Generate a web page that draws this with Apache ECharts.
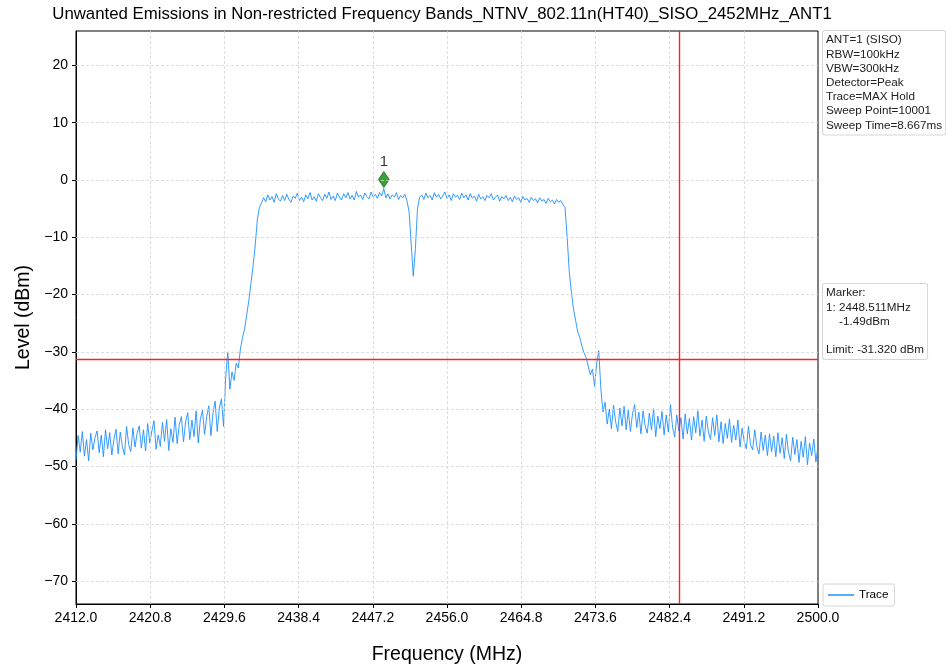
<!DOCTYPE html>
<html>
<head>
    <meta charset="utf-8">
    <script src="https://cdn.jsdelivr.net/npm/echarts@6/dist/echarts.min.js"></script>
    <style>
        html, body { margin: 0; padding: 0; background: #fff; }
        #main { width: 946px; height: 670px; }
    </style>
</head>

<body>
    <div id="main"></div>

    <script type="text/javascript">
        // sweep grid of the trace
        var FREQ_START = 2412.0;
        var FREQ_STEP = 0.25;

        // trace levels (dBm)
        var leftTail = [
            -48.9, -44.6, -47.5, -43.9, -48.2, -45.3, -49.0, -44.2, -47.1, -45.0,
            -43.8, -47.6, -44.5, -48.3, -43.6, -46.9, -44.1, -48.0, -45.2, -43.5,
            -47.8, -44.0, -46.5, -48.0, -43.0, -46.2, -47.4, -43.3, -46.6, -44.2,
            -42.9, -46.8, -43.6, -47.3, -42.5, -45.9, -43.8, -42.0, -47.0, -44.5,
            -46.5, -42.3, -45.6, -41.8, -47.2, -43.4, -45.8, -41.4, -46.0, -42.7,
            -41.3, -45.7, -42.2, -40.6, -45.3, -41.9, -44.8, -40.3, -45.9, -41.7,
            -40.2, -44.4, -41.3, -39.4, -44.6, -40.7, -38.6, -43.9, -39.8, -38.2
        ];
        var riseEdge = [
            -43.0, -34.5, -30.0, -36.5, -33.5, -35.0, -32.0, -32.8, -29.5, -27.5,
            -26.0, -23.5, -21.0, -18.0, -15.0, -11.5, -7.0, -4.8
        ];
        var plateauLow = [
            -4.0, -3.1, -3.8, -2.6, -3.5, -2.9, -3.9, -2.4, -3.3, -3.7,
            -2.7, -3.6, -2.5, -3.4, -3.9, -2.8, -3.2, -2.3, -3.6, -3.0,
            -3.8, -2.6, -3.3, -2.2, -3.5, -2.9, -3.7, -2.4, -3.1, -3.6,
            -2.5, -3.2, -2.1, -3.4, -2.8, -3.6, -2.3, -3.0, -3.5, -2.4,
            -3.1, -2.2, -3.3, -2.7, -3.5, -2.0, -3.0, -2.6, -3.4, -2.3,
            -2.9, -3.3, -2.1, -3.0, -2.5, -3.2, -2.2, -2.8, -1.49, -3.1,
            -2.4, -3.3, -2.6, -3.0, -2.2, -3.4, -2.7, -3.1, -2.5, -3.6
        ];
        var notch = [-5.5, -11.0, -16.8, -12.0, -5.0, -3.0];
        var plateauHigh = [
            -2.6, -3.4, -2.3, -3.1, -2.7, -3.5, -2.2, -3.0, -2.5, -3.3,
            -2.8, -2.1, -3.2, -2.6, -3.6, -2.4, -3.0, -2.7, -3.4, -2.3,
            -3.1, -2.6, -3.5, -2.4, -3.2, -2.8, -3.7, -2.5, -3.3, -2.9,
            -3.6, -2.7, -3.1, -2.4, -3.5, -3.0, -2.6, -3.7, -2.9, -3.3,
            -2.7, -3.6, -3.0, -3.8, -2.8, -3.4, -3.1, -3.9, -2.9, -3.5,
            -3.2, -3.9, -3.0, -3.6, -3.3, -4.0, -3.1, -3.7, -3.4, -4.1,
            -3.2, -3.8, -3.5, -4.2, -3.4, -3.9, -3.6, -4.3, -4.8
        ];
        var fallEdge = [
            -10.0, -16.0, -19.5, -22.5, -24.5, -26.5, -27.5, -29.0, -30.2, -31.0,
            -32.5, -34.0, -33.0, -36.0, -32.0, -29.8, -36.5, -40.5
        ];
        var rightTail = [
            -38.8, -42.6, -40.0, -43.4, -39.3, -42.2, -43.9, -39.8, -42.9, -39.5,
            -43.6, -40.2, -43.9, -40.8, -39.2, -43.2, -40.5, -44.3, -40.3, -42.9,
            -44.2, -40.7, -43.6, -39.9, -44.8, -41.2, -43.4, -40.4, -44.5, -41.0,
            -44.0, -39.2, -43.1, -44.9, -41.0, -43.8, -41.5, -45.2, -40.8, -44.3,
            -41.6, -45.4, -41.3, -44.1, -40.3, -44.7, -41.9, -45.6, -41.2, -44.0,
            -45.3, -41.5, -44.6, -41.0, -45.7, -42.2, -46.0, -42.5, -45.1, -41.7,
            -45.8, -42.8, -45.4, -41.9, -46.6, -43.3, -45.6, -46.9, -43.0, -46.2,
            -47.1, -43.6, -46.5, -47.8, -44.0, -47.2, -44.5, -48.1, -44.3, -47.4,
            -44.7, -48.3, -44.1, -47.7, -45.0, -48.6, -44.4, -47.5, -49.0, -44.9,
            -47.9, -45.3, -49.3, -45.6, -48.4, -44.8, -49.7, -45.9, -48.1, -45.2,
            -49.2, -46.4
        ];

        var xTicks = [2412.0, 2420.8, 2429.6, 2438.4, 2447.2, 2456.0, 2464.8, 2473.6, 2482.4, 2491.2, 2500.0];
        var yTicks = [-70, -60, -50, -40, -30, -20, -10, 0, 10, 20];
        var limitLevel = -31.32;
        var bandEdge = 2483.5;
        var markerPoint = [2448.511, -1.49];

        var infoLines = ['ANT=1 (SISO)', 'RBW=100kHz', 'VBW=300kHz', 'Detector=Peak',
            'Trace=MAX Hold', 'Sweep Point=10001', 'Sweep Time=8.667ms'];
        var markerLines = ['Marker:', '1: 2448.511MHz', '    -1.49dBm', '', 'Limit: -31.320 dBm'];

        var levels = [].concat(leftTail, riseEdge, plateauLow, notch, plateauHigh, fallEdge, rightTail);
        var trace = levels.map(function (v, i) {
            return [+(FREQ_START + i * FREQ_STEP).toFixed(2), v];
        });

        var FONT = '"Liberation Sans", Arial, sans-serif';

        // inner gridlines only, the frame is drawn by the grid border
        var gridLines = yTicks.map(function (v) { return { yAxis: v }; })
            .concat(xTicks.slice(1, -1).map(function (v) { return { xAxis: v }; }));

        function boxText(lines, x, y) {
            return {
                type: 'text',
                left: x,
                top: y,
                silent: true,
                style: {
                    text: lines.join('\n'),
                    font: '11.7px ' + FONT,
                    fill: '#222',
                    lineHeight: 14.2,
                    backgroundColor: '#fff',
                    borderColor: '#d6d6d6',
                    borderWidth: 1,
                    borderRadius: 2,
                    padding: [2, 3, 2, 3]
                }
            };
        }

        var myChart = echarts.init(document.getElementById('main'), null, { renderer: 'canvas' });
        myChart.setOption({
            animation: false,
            backgroundColor: '#fff',
            textStyle: { fontFamily: FONT },
            grid: {
                left: 76, right: 128, top: 31, bottom: 65,
                show: true, borderColor: '#000', borderWidth: 1, backgroundColor: 'transparent'
            },
            legend: {
                data: [{ name: 'Trace', icon: 'rect' }],
                left: 823, top: 584,
                borderColor: '#d6d6d6', borderWidth: 1, borderRadius: 2,
                padding: [5, 6, 5, 5],
                itemWidth: 26, itemHeight: 1.5,
                textStyle: { fontSize: 11.7, color: '#000', fontFamily: FONT },
                selectedMode: false
            },
            graphic: [
                {
                    type: 'text', x: 442, y: 14, silent: true,
                    style: {
                        text: 'Unwanted Emissions in Non-restricted Frequency Bands_NTNV_802.11n(HT40)_SISO_2452MHz_ANT1',
                        font: '16.8px ' + FONT, fill: '#000', align: 'center', verticalAlign: 'middle'
                    }
                },
                boxText(infoLines, 822, 30),
                boxText(markerLines, 822, 283)
            ],
            xAxis: {
                type: 'value',
                min: 2412, max: 2500,
                name: 'Frequency (MHz)',
                nameLocation: 'middle',
                nameGap: 41,
                nameTextStyle: { fontSize: 19.5, color: '#000', fontFamily: FONT },
                axisLine: { show: true, onZero: false, lineStyle: { color: '#000' } },
                axisTick: { show: true, length: 4, lineStyle: { color: '#000' }, customValues: xTicks },
                axisLabel: {
                    customValues: xTicks, fontSize: 14, color: '#000', margin: 7,
                    formatter: function (v) { return Number(v).toFixed(1); }
                },
                splitLine: { show: false }
            },
            yAxis: {
                type: 'value',
                min: -74, max: 26,
                name: 'Level (dBm)',
                nameLocation: 'middle',
                nameGap: 42,
                nameTextStyle: { fontSize: 19.5, color: '#000', fontFamily: FONT },
                axisLine: { show: true, onZero: false, lineStyle: { color: '#000' } },
                axisTick: { show: true, length: 4, lineStyle: { color: '#000' }, customValues: yTicks },
                axisLabel: {
                    customValues: yTicks, fontSize: 14, color: '#000', margin: 8,
                    formatter: function (v) { return v < 0 ? '\u2212' + (-v) : '' + v; }
                },
                splitLine: { show: false }
            },
            series: [
                {
                    name: 'grid',
                    type: 'line',
                    data: [],
                    silent: true,
                    z: 1,
                    markLine: {
                        silent: true,
                        symbol: 'none',
                        label: { show: false },
                        lineStyle: { color: '#d4d4d4', width: 0.8, type: [3, 2] },
                        data: gridLines
                    }
                },
                {
                    name: 'Trace',
                    type: 'line',
                    data: trace,
                    symbol: 'none',
                    lineStyle: { color: '#1e90ff', width: 0.9 },
                    itemStyle: { color: '#1e90ff' },
                    z: 2
                },
                {
                    name: 'limits',
                    type: 'line',
                    data: [],
                    silent: true,
                    z: 3,
                    markLine: {
                        silent: true,
                        symbol: 'none',
                        label: { show: false },
                        lineStyle: { color: '#ff2020', width: 1.4, type: 'solid' },
                        data: [{ yAxis: limitLevel }, { xAxis: bandEdge }]
                    }
                },
                {
                    name: 'marker',
                    type: 'scatter',
                    data: [markerPoint],
                    symbol: 'diamond',
                    symbolSize: [11, 16],
                    symbolOffset: [0, -9],
                    itemStyle: { color: '#0a8a0a', borderColor: '#056005', borderWidth: 0.8 },
                    label: {
                        show: true, formatter: '1', position: 'top', distance: 2,
                        fontSize: 15, color: '#000', fontFamily: FONT
                    },
                    z: 4
                }
            ]
        });
    </script>
</body>

</html>
